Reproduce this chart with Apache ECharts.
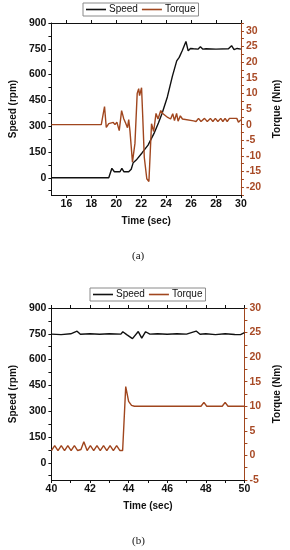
<!DOCTYPE html>
<html>
<head>
<meta charset="utf-8">
<script src="https://cdn.jsdelivr.net/npm/echarts@6/dist/echarts.min.js"></script>
<style>
html,body{margin:0;padding:0;background:#fff;}
#chart{width:290px;height:550px;}
</style>
</head>
<body>
<div id="chart"></div>
<script>
// ---- Data (a) ----
var speedA_t = [14.8, 19.4, 19.65, 19.85, 20.3, 20.45, 20.62, 21.0, 21.2, 21.36, 21.6, 22.08, 22.55, 23.03, 23.39, 23.68, 24.1, 24.5, 24.85, 25.05, 25.3, 25.59, 25.77, 25.95, 26.2, 26.55, 26.75, 26.95, 27.2, 28.0, 29.0, 29.25, 29.45, 29.7, 29.85, 30];
var speedA_v = [0, 0, 55, 35, 35, 55, 35, 35, 50, 88, 103, 146, 190, 258, 320, 375, 470, 590, 680, 700, 740, 793, 738, 752, 750, 748, 762, 748, 750, 748, 750, 768, 745, 752, 745, 748];
var torqueA_t = [14.8, 18.8, 19.06, 19.2, 19.4, 19.56, 19.76, 19.9, 20.05, 20.24, 20.43, 20.6, 20.75, 20.9, 21.0, 21.1, 21.3, 21.5, 21.68, 21.8, 21.87, 22.03, 22.12, 22.25, 22.45, 22.62, 22.83, 23.0, 23.19, 23.35, 23.57, 23.75, 23.9, 24.13, 24.36, 24.53, 24.67, 24.84, 24.96, 25.14, 25.31, 25.45, 26.2, 26.4, 26.6, 26.8, 27.08, 27.3, 27.55, 27.75, 27.95, 28.15, 28.38, 28.55, 28.73, 28.9, 29.08, 29.2, 29.67, 29.8, 30];
var torqueA_v = [0, 0, 5.8, -0.9, 0.3, -0.2, 0.7, 0, 0.8, -1.9, 4.5, 1.9, 0.5, -1, 1.6, -2, -12, -6, 10, 11.5, 9.3, 11.8, 3, -10.5, -17.3, -18.2, 0.3, -2.2, 3.6, 1.8, 4.5, 3.5, 4, 2.3, 1.8, 3.5, 1.3, 3.6, 1.1, 2.8, 1.8, 1.2, 1.2, 1.0, 2.0, 1.0, 2.0, 1.0, 2.0, 1.0, 2.0, 1.0, 2.0, 1.0, 2.0, 1.0, 2.0, 2.0, 2.0, 0.8, 1.6];

// ---- Data (b) ----
var speedB_t = [40, 40.5, 41.0, 41.33, 41.5, 42, 42.5, 43, 43.6, 43.7, 43.9, 44.0, 44.2, 44.5, 44.68, 44.88, 45.1, 45.5, 46, 46.5, 47, 47.5, 47.7, 48, 48.5, 49, 49.5, 49.8, 50];
var speedB_v = [748, 745, 750, 765, 747, 750, 747, 750, 748, 762, 745, 752, 722, 763, 725, 762, 748, 750, 747, 750, 748, 766, 747, 750, 745, 750, 746, 745, 757];
var torqueB_t = [40, 40.17, 40.34, 40.51, 40.68, 40.85, 41.02, 41.19, 41.36, 41.53, 41.68, 41.85, 42.02, 42.19, 42.36, 42.53, 42.7, 42.87, 43.04, 43.21, 43.38, 43.55, 43.69, 43.85, 44.0, 44.15, 44.3, 47.75, 47.9, 48.05, 48.85, 49.0, 49.15, 50];
var torqueB_v = [1.0, 2.0, 1.0, 2.0, 1.0, 2.0, 1.0, 2.0, 1.0, 1.2, 2.8, 1.0, 2.0, 1.0, 2.0, 1.0, 2.0, 1.0, 2.0, 1.0, 2.0, 1.0, 1.0, 14, 11, 10.2, 10, 10, 10.8, 10, 10, 10.8, 10, 10];

// ---- Tick labels ----
var timeLabelsA = [16, 18, 20, 22, 24, 26, 28, 30];
var timeLabelsB = [40, 42, 44, 46, 48, 50];
var timeTicksB = [40, 41, 42, 43, 44, 45, 46, 47, 48, 49, 50];
var speedLabels = [0, 150, 300, 450, 600, 750, 900];
var speedTicks = [-75, 0, 75, 150, 225, 300, 375, 450, 525, 600, 675, 750, 825, 900];
var torqueLabelsA = [-20, -15, -10, -5, 0, 5, 10, 15, 20, 25, 30];
var torqueTicksA = [-22.5, -20, -17.5, -15, -12.5, -10, -7.5, -5, -2.5, 0, 2.5, 5, 7.5, 10, 12.5, 15, 17.5, 20, 22.5, 25, 27.5, 30, 32.5];
var torqueLabelsB = [-5, 0, 5, 10, 15, 20, 25, 30];
var torqueTicksB = [-5, -2.5, 0, 2.5, 5, 7.5, 10, 12.5, 15, 17.5, 20, 22.5, 25, 27.5, 30];

function pairs(t, v) { return t.map(function (x, i) { return [x, v[i]]; }); }

var FONT = 'Liberation Sans, Arial, sans-serif';
var BLACK = '#111';
var BROWN = '#a0461e';
var BROWN_LBL = '#a84a26';

var nameSty = { fontFamily: FONT, fontWeight: 'bold', fontSize: 10, color: BLACK };

function xAx(grid, min, max, labels, ticks, top) {
  return {
    type: 'value', gridIndex: grid, min: min, max: max,
    position: top ? 'top' : 'bottom',
    name: top ? '' : 'Time (sec)', nameLocation: 'middle', nameGap: 21, nameTextStyle: nameSty,
    axisLine: { show: true, onZero: false, lineStyle: { color: BLACK, width: 1 } },
    axisTick: { show: true, inside: false, length: 3, customValues: ticks, lineStyle: { color: BLACK } },
    axisLabel: { show: !top, margin: 4, customValues: labels, fontFamily: FONT, fontWeight: 'bold', fontSize: 10.5, color: BLACK },
    splitLine: { show: false }
  };
}
function yLeft(grid) {
  return {
    type: 'value', gridIndex: grid, min: -100, max: 900, position: 'left',
    name: 'Speed (rpm)', nameLocation: 'middle', nameGap: 27, nameRotate: 90, nameTextStyle: nameSty,
    axisLine: { show: true, onZero: false, lineStyle: { color: BLACK, width: 1 } },
    axisTick: { show: true, length: 3, customValues: speedTicks, lineStyle: { color: BLACK } },
    axisLabel: { margin: 5, customValues: speedLabels, fontFamily: FONT, fontWeight: 'bold', fontSize: 10.5, color: BLACK },
    splitLine: { show: false }
  };
}
function yRight(grid, min, max, labels, ticks) {
  return {
    type: 'value', gridIndex: grid, min: min, max: max, position: 'right',
    name: 'Torque (Nm)', nameLocation: 'middle', nameGap: 25, nameRotate: 90, nameTextStyle: nameSty,
    axisLine: { show: true, onZero: false, lineStyle: { color: BROWN, width: 1 } },
    axisTick: { show: true, length: 3, customValues: ticks, lineStyle: { color: BROWN } },
    axisLabel: { margin: 5, customValues: labels, fontFamily: FONT, fontWeight: 'bold', fontSize: 10.5, color: BROWN_LBL },
    splitLine: { show: false }
  };
}
function legendAt(left, top) {
  return {
    left: left, top: top, orient: 'horizontal',
    data: ['Speed', 'Torque'],
    icon: 'rect',
    itemWidth: 20, itemHeight: 1.6, itemGap: 4,
    padding: [1, 3, 1, 3],
    borderColor: '#8a8a8a', borderWidth: 1, borderRadius: 0,
    textStyle: { fontFamily: FONT, fontSize: 10, color: BLACK, lineHeight: 11, padding: [0, 0, 0, -2] },
    selectedMode: false
  };
}

var chart = echarts.init(document.getElementById('chart'), null, { renderer: 'canvas' });
chart.setOption({
  animation: false,
  backgroundColor: '#fff',
  legend: [legendAt(83, 3), legendAt(90, 288)],
  grid: [
    { left: 40, right: 38, top: 23, height: 172, containLabel: false },
    { left: 40, right: 37, top: 308, height: 172, containLabel: false }
  ],
  xAxis: [
    xAx(0, 14.8, 30, timeLabelsA, timeLabelsA, false),
    xAx(0, 14.8, 30, timeLabelsA, timeLabelsA, true),
    xAx(1, 40, 50, timeLabelsB, timeTicksB, false),
    xAx(1, 40, 50, timeLabelsB, timeTicksB, true)
  ],
  yAxis: [
    yLeft(0),
    yRight(0, -22.5, 32.5, torqueLabelsA, torqueTicksA),
    yLeft(1),
    yRight(1, -5, 30, torqueLabelsB, torqueTicksB)
  ],
  series: [
    { name: 'Speed', type: 'line', xAxisIndex: 0, yAxisIndex: 0, data: pairs(speedA_t, speedA_v), symbol: 'none', lineStyle: { color: BLACK, width: 1.4 }, itemStyle: { color: BLACK } },
    { name: 'Torque', type: 'line', xAxisIndex: 0, yAxisIndex: 1, data: pairs(torqueA_t, torqueA_v), symbol: 'none', lineStyle: { color: BROWN, width: 1.4 }, itemStyle: { color: BROWN } },
    { name: 'Speed', type: 'line', xAxisIndex: 2, yAxisIndex: 2, data: pairs(speedB_t, speedB_v), symbol: 'none', lineStyle: { color: BLACK, width: 1.4 }, itemStyle: { color: BLACK } },
    { name: 'Torque', type: 'line', xAxisIndex: 2, yAxisIndex: 3, data: pairs(torqueB_t, torqueB_v), symbol: 'none', lineStyle: { color: BROWN, width: 1.4 }, itemStyle: { color: BROWN } }
  ],
  graphic: [
    { type: 'text', left: 132, top: 251, style: { text: '(a)', font: '11px "Liberation Serif", "Times New Roman", serif', fill: BLACK } },
    { type: 'text', left: 132, top: 536, style: { text: '(b)', font: '11px "Liberation Serif", "Times New Roman", serif', fill: BLACK } }
  ]
});
</script>
</body>
</html>
